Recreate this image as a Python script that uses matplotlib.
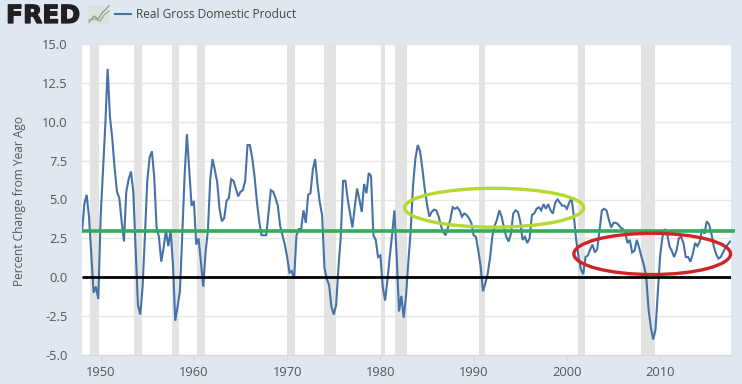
import matplotlib
matplotlib.use("Agg")
import matplotlib.pyplot as plt
import matplotlib.patheffects as pe
from matplotlib.patches import Ellipse, Rectangle

# percent change from year ago, quarterly
gdp_1948_1959 = [2.9, 4.7, 5.3, 3.9, 1.4, -1.0, -0.6, -1.4,
                 3.9, 6.9, 9.8, 13.4, 10.3, 8.9, 7.0, 5.5,
                 5.1, 3.6, 2.3, 5.5, 6.3, 6.8, 5.5, 1.9,
                 -1.8, -2.4, -0.6, 2.7, 6.2, 7.7, 8.1, 6.4,
                 3.2, 2.6, 1.0, 1.9, 3.0, 2.0, 3.0, 0.9,
                 -2.8, -1.9, -0.9, 2.7, 6.5, 9.2, 6.9, 4.6]
gdp_1960_1969 = [4.9, 2.1, 2.5, 1.0, -0.6, 1.6, 3.0, 6.3,
                 7.6, 6.9, 6.1, 4.4, 3.6, 3.8, 4.9, 5.1,
                 6.3, 6.2, 5.7, 5.2, 5.5, 5.6, 6.2, 8.5,
                 8.5, 7.7, 6.5, 4.9, 3.6, 2.7, 2.7, 2.7,
                 4.1, 5.6, 5.5, 5.1, 4.6, 3.3, 2.7, 2.1]
gdp_1970_1979 = [1.3, 0.3, 0.4, -0.1, 2.7, 3.1, 3.1, 4.3,
                 3.5, 5.3, 5.4, 6.9, 7.6, 6.0, 4.8, 4.0,
                 0.6, -0.1, -0.5, -1.9, -2.4, -1.8, 0.6, 2.6,
                 6.2, 6.2, 5.0, 4.1, 3.2, 4.5, 5.7, 5.0,
                 4.2, 6.0, 5.4, 6.7, 6.5, 2.7, 2.4, 1.3]
gdp_1980_1989 = [1.4, -0.6, -1.5, -0.2, 1.3, 2.7, 4.3, 1.3,
                 -2.2, -1.2, -2.6, -1.2, 1.0, 3.0, 5.9, 7.6,
                 8.5, 8.1, 7.0, 5.7, 4.7, 3.9, 4.2, 4.35,
                 4.3, 3.9, 3.3, 2.9, 2.7, 3.2, 3.7, 4.5,
                 4.4, 4.5, 4.3, 3.9, 4.1, 4.0, 3.8, 3.5]
gdp_1990_1999 = [2.7, 2.6, 1.7, 0.7, -0.9, -0.4, 0.2, 1.2,
                 2.6, 3.3, 3.7, 4.3, 3.9, 3.2, 2.6, 2.3,
                 2.8, 4.1, 4.3, 4.2, 3.6, 2.4, 2.6, 2.2,
                 2.5, 4.0, 4.1, 4.4, 4.5, 4.3, 4.7, 4.4,
                 4.7, 4.3, 4.1, 4.8, 5.0, 4.8, 4.6, 4.6]
gdp_2000_2009 = [4.4, 4.8, 5.1, 3.9, 2.4, 1.3, 0.5, 0.2,
                 1.3, 1.4, 1.8, 2.1, 1.6, 1.8, 3.0, 4.3,
                 4.4, 4.3, 3.7, 3.2, 3.5, 3.5, 3.4, 3.2,
                 3.1, 2.9, 2.2, 2.4, 1.6, 1.7, 2.4, 1.9,
                 1.3, 0.8, 0.1, -2.0, -3.2, -4.0, -3.4, -1.0]
gdp_2010_2017 = [1.4, 2.6, 3.1, 2.8, 2.0, 1.7, 1.3, 1.7,
                 2.5, 2.6, 2.2, 1.3, 1.3, 1.0, 1.5, 2.2,
                 2.0, 2.3, 3.1, 2.8, 3.6, 3.4, 2.8, 2.0,
                 1.5, 1.2, 1.3, 1.6, 1.9, 2.1, 2.3]
gdp = (gdp_1948_1959 + gdp_1960_1969 + gdp_1970_1979 + gdp_1980_1989
       + gdp_1990_1999 + gdp_2000_2009 + gdp_2010_2017)
dates = [1948 + i / 4 for i in range(len(gdp))]

recession_start = [1948.9, 1953.55, 1957.65, 1960.3, 1969.95, 1973.9, 1980.05, 1981.55, 1990.55, 2001.2, 2007.95]
recession_end = [1949.8, 1954.4, 1958.35, 1961.15, 1970.85, 1975.2, 1980.5, 1982.85, 1991.2, 2001.9, 2009.45]

year_ticks = [1950, 1960, 1970, 1980, 1990, 2000, 2010]
y_ticks = [-5.0, -2.5, 0.0, 2.5, 5.0, 7.5, 10.0, 12.5, 15.0]

trend_level = 2.95

W, H = 742, 384
plt.rcParams["font.family"] = ["Open Sans", "DejaVu Sans"]

fig = plt.figure(figsize=(W / 100, H / 100), dpi=100, facecolor="#dfe8f0")
ax = fig.add_axes([82 / W, 1 - 355 / H, (731 - 82) / W, (355 - 44) / H])
ax.set_facecolor("white")

for s, e in zip(recession_start, recession_end):
    ax.axvspan(s, e, color="#e3e3e3", lw=0, zorder=1)

ax.plot(dates, gdp, color="#4572a7", lw=1.5, zorder=3, solid_joinstyle="miter")

# hand drawn marks on top of the chart
ax.plot([1948, 2018], [trend_level, trend_level], color="#2fae5a", lw=2.6, zorder=4, clip_on=False, scalex=False,
        solid_capstyle="butt")
ax.plot([1948, 2017.6], [0, 0], color="black", lw=2.0, zorder=4, scalex=False, solid_capstyle="butt")
ax.add_patch(Ellipse((1992.2, 4.47), 19.2, 2.5, fc="none", ec="#b5d92e", lw=2.4, zorder=5, clip_on=False))
ax.add_patch(Ellipse((2009.15, 1.5), 16.8, 2.65, fc="none", ec="#d2232a", lw=2.4, zorder=5, clip_on=False))

ax.set_xlim(1948, 2017.6)
ax.set_ylim(-5, 15)
ax.set_xticks(year_ticks)
ax.set_yticks(y_ticks)
ax.set_yticklabels([f"{v:.1f}" for v in y_ticks])
ax.grid(axis="y", color="#e6e6e6", lw=1, zorder=0)
ax.set_axisbelow(True)
for side in ["top", "right", "left"]:
    ax.spines[side].set_visible(False)
ax.spines["bottom"].set_color("#d5dbe0")
ax.spines["bottom"].set_linewidth(0.8)
ax.tick_params(axis="x", length=4, width=0.8, color="#d5dbe0", labelcolor="#555555", labelsize=9.3, pad=4)
ax.tick_params(axis="y", length=0, labelcolor="#555555", labelsize=9.3, pad=10.5)

fig.text(20 / W, 1 - 200.5 / H, "Percent Change from Year Ago", rotation=90, ha="center", va="center",
         fontsize=8.6, color="#555555")

# header
fig.text(6 / W, 1 - 16 / H, "FRED", ha="left", va="center", fontsize=18, fontweight="bold",
         family="DejaVu Sans", color="#231f20",
         path_effects=[pe.withStroke(linewidth=0.9, foreground="#231f20")])
fig.add_artist(Rectangle((88 / W, 1 - 24 / H), 21 / W, 19 / H, transform=fig.transFigure, fc="#dde3dc", ec="none"))
fig.add_artist(plt.Line2D([89 / W, 94 / W, 98 / W, 102 / W, 109 / W], [1 - 22 / H, 1 - 16 / H, 1 - 19 / H, 1 - 13 / H, 1 - 6 / H],
                          color="#7fa27f", lw=0.9))
fig.add_artist(plt.Line2D([89 / W, 95 / W, 100 / W, 104 / W, 109 / W], [1 - 20 / H, 1 - 19 / H, 1 - 21 / H, 1 - 15 / H, 1 - 11 / H],
                          color="#9aa89a", lw=0.9))
fig.add_artist(plt.Line2D([115 / W, 131 / W], [1 - 14 / H, 1 - 14 / H], color="#4572a7", lw=1.5))
fig.text(136 / W, 1 - 15 / H, "Real Gross Domestic Product", ha="left", va="center", fontsize=8.6, color="#444444")

fig.savefig("out.png", dpi=100, facecolor=fig.get_facecolor())
